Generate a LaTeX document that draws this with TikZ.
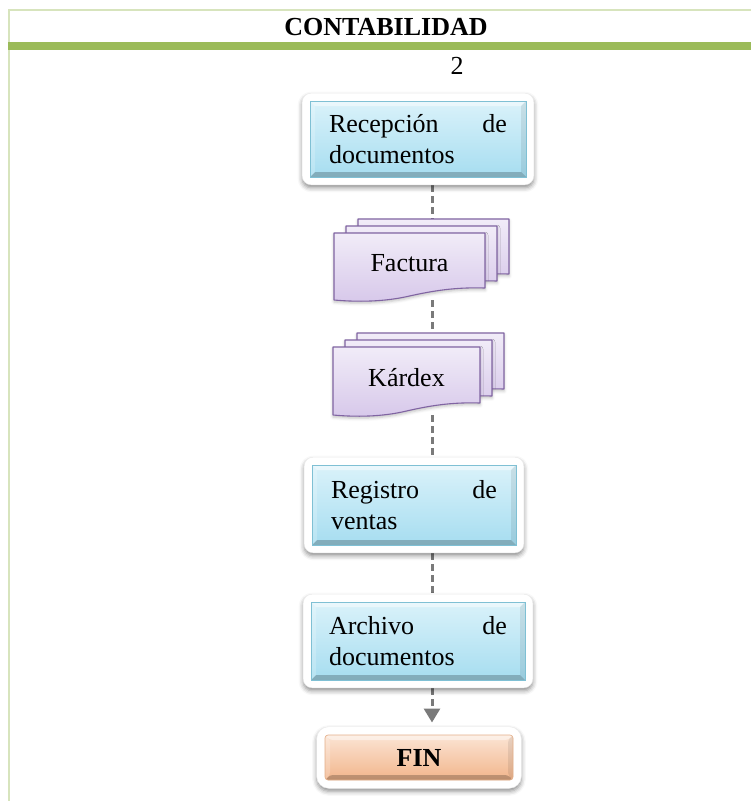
\documentclass[tikz,border=0pt]{standalone}
\usepackage{fontspec}
\setmainfont{Liberation Serif}
\usetikzlibrary{fit,shadows.blur,arrows.meta}

\pgfdeclarelayer{links}
\pgfdeclarelayer{frames}
\pgfsetlayers{links,frames,main}

\definecolor{gridgreen}{HTML}{D7E4BD}
\definecolor{bargreen}{HTML}{9BBB59}
\definecolor{aquatop}{HTML}{DAF2FA}
\definecolor{aquabot}{HTML}{A6DDF0}
\definecolor{aquaedge}{HTML}{7FC0D4}
\definecolor{lilactop}{HTML}{F1ECF8}
\definecolor{lilacbot}{HTML}{D7C8EA}
\definecolor{lilacedge}{HTML}{8064A2}
\definecolor{peachtop}{HTML}{FBE4D4}
\definecolor{peachbot}{HTML}{F2B58B}
\definecolor{peachedge}{HTML}{E3AE88}
\definecolor{linkgray}{HTML}{7A7A7A}

\tikzset{
  txt/.style={font=\fontsize{26}{31}\selectfont},
  % bevelled edges drawn inside a box
  bevel/.style={path picture={
    \fill[white,opacity=.45] (path picture bounding box.north west) -- (path picture bounding box.north east)
      -- ([shift={(-5,5)}]path picture bounding box.north east) -- ([shift={(5,5)}]path picture bounding box.north west) -- cycle;
    \fill[black,opacity=.22] (path picture bounding box.south west) -- (path picture bounding box.south east)
      -- ([shift={(-5,-5)}]path picture bounding box.south east) -- ([shift={(5,-5)}]path picture bounding box.south west) -- cycle;
    \fill[white,opacity=.2] (path picture bounding box.north west) -- ([shift={(5,5)}]path picture bounding box.north west)
      -- ([shift={(5,-5)}]path picture bounding box.south west) -- (path picture bounding box.south west) -- cycle;
    \fill[black,opacity=.08] (path picture bounding box.north east) -- ([shift={(-5,5)}]path picture bounding box.north east)
      -- ([shift={(-5,-5)}]path picture bounding box.south east) -- (path picture bounding box.south east) -- cycle;
  }},
  procbox/.style n args={3}{rectangle, txt, top color=aquatop, bottom color=aquabot,
    draw=aquaedge, line width=0.6pt, bevel, inner sep=0pt,
    minimum width=#1, minimum height=#2, text width=#3, align=left},
  endbox/.style={rectangle, txt, font=\fontsize{26}{31}\selectfont\bfseries, top color=peachtop, bottom color=peachbot,
    draw=peachedge, line width=0.6pt, bevel, inner sep=0pt, rounded corners=3pt,
    minimum width=188, minimum height=45},
  frame/.style={draw=black!8, line width=0.4pt, fill=white, rounded corners=9pt, inner sep=7.5pt,
    blur shadow={shadow xshift=0pt, shadow yshift=-3pt, shadow blur radius=4.5pt, shadow opacity=45}},
  link/.style={draw=linkgray, line width=3pt, dash pattern=on 7pt off 4pt},
  docpath/.style={draw=lilacedge, line width=1.1pt, top color=lilactop, bottom color=lilacbot, line join=round,
    blur shadow={shadow xshift=0pt, shadow yshift=-2pt, shadow blur radius=3pt, shadow opacity=25}},
  % stack of three documents with a wavy lower edge
  pics/multidoc/.style n args={3}{code={
    \foreach \dx/\dy in {24/-14,12/-7,0/0}{
      \path[docpath] (\dx,\dy) -- ({\dx+#1},\dy) -- ({\dx+#1},{\dy+#2-12})
        .. controls ({\dx+0.8*#1},{\dy+#2-13}) and ({\dx+0.65*#1},{\dy+#2-9}) .. ({\dx+0.5*#1},{\dy+#2-4})
        .. controls ({\dx+0.33*#1},{\dy+#2+2}) and ({\dx+0.15*#1},{\dy+#2+2}) .. (\dx,{\dy+#2}) -- cycle;
    }
    \node[txt, inner sep=0pt] (-text) at ({0.5*#1},{0.5*(#2-6)}) {#3};
    \coordinate (-top) at ({24+0.5*#1},-14);
    \coordinate (-bot) at ({0.5*#1},{#2});
  }}
}

\begin{document}
\begin{tikzpicture}[x=1pt,y=-1pt]
  \useasboundingbox (0,0) rectangle (751,801);

  % table rules and header band
  \draw[gridgreen, line width=2pt] (8.5,801) -- (8.5,10) -- (751,10);
  \fill[bargreen] (7.5,42) rectangle (751,50);

  \node[txt, font=\fontsize{26}{31}\selectfont\bfseries] (title) at (386,27) {CONTABILIDAD};
  \node[txt] (pagenum) at (457,66) {2};

  \coordinate (spine) at (432,0);

  % process boxes
  \node[procbox={216}{76}{178}] (b1) at (418,139) {Recepción\hfill de\\documentos};
  \pic (fac) at (334,233) {multidoc={151}{67}{Factura}};
  \pic (kar) at (333,347) {multidoc={147}{68}{Kárdex}};
  \node[procbox={204}{80}{166}] (b2) at (414,505) {Registro\hfill de\\ventas};
  \node[procbox={214}{78}{178}] (b3) at (418,641) {Archivo\hfill de\\documentos};
  \node[endbox] (fin) at (419,757.5) {FIN};

  % white raised frames behind the boxes
  \begin{pgfonlayer}{frames}
    \node[frame, fit=(b1)] (f1) {};
    \node[frame, fit=(b2)] (f2) {};
    \node[frame, fit=(b3)] (f3) {};
    \node[frame, fit=(fin), inner sep=8pt, rounded corners=12pt] (f4) {};
  \end{pgfonlayer}

  % dashed flow line
  \begin{pgfonlayer}{links}
    \draw[link] (f1.south -| spine) -- (fac-top -| spine);
    \draw[link] (fac-bot -| spine) -- (kar-top -| spine);
    \draw[link] (kar-bot -| spine) -- (f2.north -| spine);
    \draw[link] (f2.south -| spine) -- (f3.north -| spine);
    \draw[link, shorten >=4pt, -{Triangle[length=14pt,width=16pt]}] (f3.south -| spine) -- (f4.north -| spine);
  \end{pgfonlayer}
\end{tikzpicture}
\end{document}
